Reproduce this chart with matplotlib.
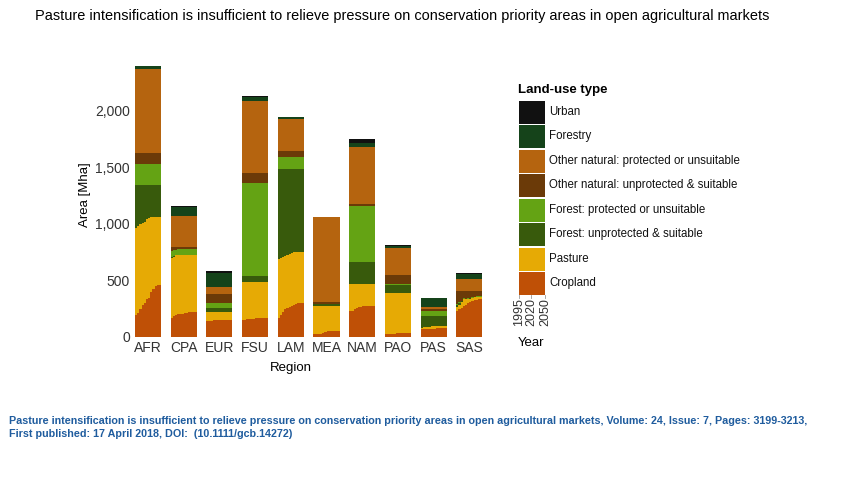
import numpy as np
from matplotlib import pyplot as plt
from matplotlib.patches import Rectangle

plt.rcParams['font.family'] = ['Liberation Sans', 'DejaVu Sans']

years = [1995, 2000, 2005, 2010, 2015, 2020, 2025, 2030, 2035, 2040, 2045, 2050]
regions = ['AFR', 'CPA', 'EUR', 'FSU', 'LAM', 'MEA', 'NAM', 'PAO', 'PAS', 'SAS']
land_types = ['Cropland', 'Pasture', 'Forest: unprotected & suitable', 'Forest: protected or unsuitable',
              'Other natural: unprotected & suitable', 'Other natural: protected or unsuitable',
              'Forestry', 'Urban']
colors = ['#bf5006', '#e6aa05', '#385a0c', '#64a314', '#6b3a08', '#b5640f', '#15431a', '#111111']

# Mha per land type, bottom to top. single number = flat over the years
AFR = [[190, 210, 250, 280, 300, 340, 345, 400, 420, 450, 460, 460],
       [770, 770, 750, 730, 720, 700, 710, 660, 640, 610, 600, 600],
       [385, 365, 345, 335, 325, 305, 290, 285, 285, 285, 285, 285],
       183, 97, 742, 23, 5]
CPA = [[170, 185, 195, 200, 205, 205, 210, 215, 220, 222, 222, 222],
       [525, 525, 527, 525, 520, 520, 515, 510, 505, 503, 503, 503],
       [8, 5, 3, 2, 2, 2, 2, 2, 2, 2, 2, 2],
       [57, 50, 45, 48, 50, 50, 50, 50, 50, 50, 50, 50],
       [38, 33, 28, 23, 21, 21, 21, 21, 21, 21, 21, 21],
       270, 80, 7]
EUR = [[140, 143, 145, 147, 148, 150, 150, 150, 150, 150, 150, 150],
       [83, 80, 78, 76, 75, 73, 73, 73, 73, 73, 73, 73],
       30, 47, 80, 62, 126, 18]
FSU = [[150, 152, 155, 158, 160, 162, 165, 165, 165, 165, 165, 165],
       [335, 333, 330, 327, 325, 323, 320, 320, 320, 320, 320, 320],
       55, 820, 90, 635, 35, 10]
LAM = [[168, 195, 225, 245, 255, 265, 275, 285, 290, 298, 300, 300],
       [522, 500, 480, 470, 470, 470, 470, 465, 460, 452, 450, 450],
       [790, 785, 775, 765, 755, 745, 735, 730, 730, 730, 730, 730],
       110, 55, 280, 17, 5]
MEA = [[25, 25, 25, 30, 35, 45, 50, 55, 55, 55, 55, 55],
       [252, 252, 252, 247, 242, 232, 227, 222, 222, 222, 222, 222],
       13, 2, 18, 750, 2, 2]
NAM = [[228, 232, 245, 255, 262, 268, 272, 275, 275, 275, 275, 275],
       [244, 240, 227, 217, 210, 204, 200, 197, 197, 197, 197, 197],
       190, 495, 18, 505, 32, 35]
PAO = [[25, 26, 27, 28, 30, 32, 34, 36, 38, 38, 38, 38],
       [363, 362, 361, 360, 358, 356, 354, 352, 350, 350, 350, 350],
       67, 15, 78, 242, 18, 2]
PAS = [[68, 70, 70, 72, 72, 75, 75, 78, 78, 80, 80, 80],
       [14, 16, 18, 18, 20, 20, 20, 20, 20, 20, 20, 20],
       [103, 99, 97, 95, 93, 90, 90, 87, 87, 85, 85, 85],
       45, 18, 20, 75, 2]
SAS = [[232, 245, 260, 275, 285, 300, 310, 318, 325, 330, 335, 335],
       [30, 40, 50, 60, 50, 38, 30, 27, 27, 25, 20, 20],
       [20, 15, 5, 3, 2, 2, 2, 2, 1, 1, 1, 1],
       [10, 8, 5, 3, 2, 2, 2, 2, 2, 2, 2, 2],
       [117, 101, 89, 68, 70, 67, 65, 60, 54, 51, 51, 51],
       103, 43, 8]
region_data = [AFR, CPA, EUR, FSU, LAM, MEA, NAM, PAO, PAS, SAS]

W, H = 846, 480
fig = plt.figure(figsize=(W / 100, H / 100), dpi=100)

# main chart, axes box set in pixels
ax = fig.add_axes([130 / W, 1 - 337 / H, 358 / W, 282 / H])
panel_width = 0.728
step = panel_width / len(years)
offsets = (np.arange(len(years)) - (len(years) - 1) / 2) * step

for i, rows in enumerate(region_data):
    bottom = np.zeros(len(years))
    for row, color in zip(rows, colors):
        vals = np.full(len(years), row) if np.isscalar(row) else np.array(row)
        ax.bar(i + offsets, vals, step * 1.02, bottom=bottom, color=color, linewidth=0)
        bottom += vals

ax.set_xlim(-0.504, 9.524)
ax.set_ylim(0, 2491)
ax.set_xticks(range(len(regions)))
ax.set_xticklabels(regions)
ax.set_yticks([0, 500, 1000, 1500, 2000])
ax.set_yticklabels(['0', '500', '1,000', '1,500', '2,000'])
ax.tick_params(axis='y', length=0, labelsize=10, labelcolor='#333333', pad=0)
ax.tick_params(axis='x', length=0, labelsize=10, labelcolor='#333333', pad=3)
for side in ax.spines.values():
    side.set_visible(False)

# overlay in pixel coordinates for legend and text
over = fig.add_axes([0, 0, 1, 1])
over.set_xlim(0, W)
over.set_ylim(H, 0)
over.axis('off')
over.patch.set_alpha(0)

over.text(35, 16, 'Pasture intensification is insufficient to relieve pressure on conservation priority areas in open agricultural markets',
          fontsize=10.45, va='center', color='black')
over.text(85, 195, 'Area [Mha]', fontsize=9.5, rotation=90, ha='center', va='center')
over.text(291, 368, 'Region', fontsize=9.5, ha='center', va='center')

over.text(518, 90, 'Land-use type', fontsize=9.5, fontweight='bold', va='center')
for k, (name, color) in enumerate(zip(land_types[::-1], colors[::-1])):
    y = 101 + k * 24.45
    over.add_patch(Rectangle((519, y), 26, 23, facecolor=color, edgecolor='none'))
    over.text(549, y + 11, name, fontsize=8.3, va='center', color='#111111')

for x, year in zip([519, 531, 545], [1995, 2020, 2050]):
    over.plot([x, x], [295, 298], color='#999999', lw=0.6)
    over.text(x, 298, str(year), rotation=90, fontsize=9, ha='center', va='top', color='#333333')
over.text(518, 343, 'Year', fontsize=9.5, va='center')

footer_color = '#1f5c9e'
over.text(9, 421, 'Pasture intensification is insufficient to relieve pressure on conservation priority areas in open agricultural markets, Volume: 24, Issue: 7, Pages: 3199-3213,',
          fontsize=7.75, fontweight='bold', color=footer_color, va='center')
over.text(9, 434, 'First published: 17 April 2018, DOI:  (10.1111/gcb.14272)',
          fontsize=7.75, fontweight='bold', color=footer_color, va='center')

fig.savefig('out.png', dpi=100)
